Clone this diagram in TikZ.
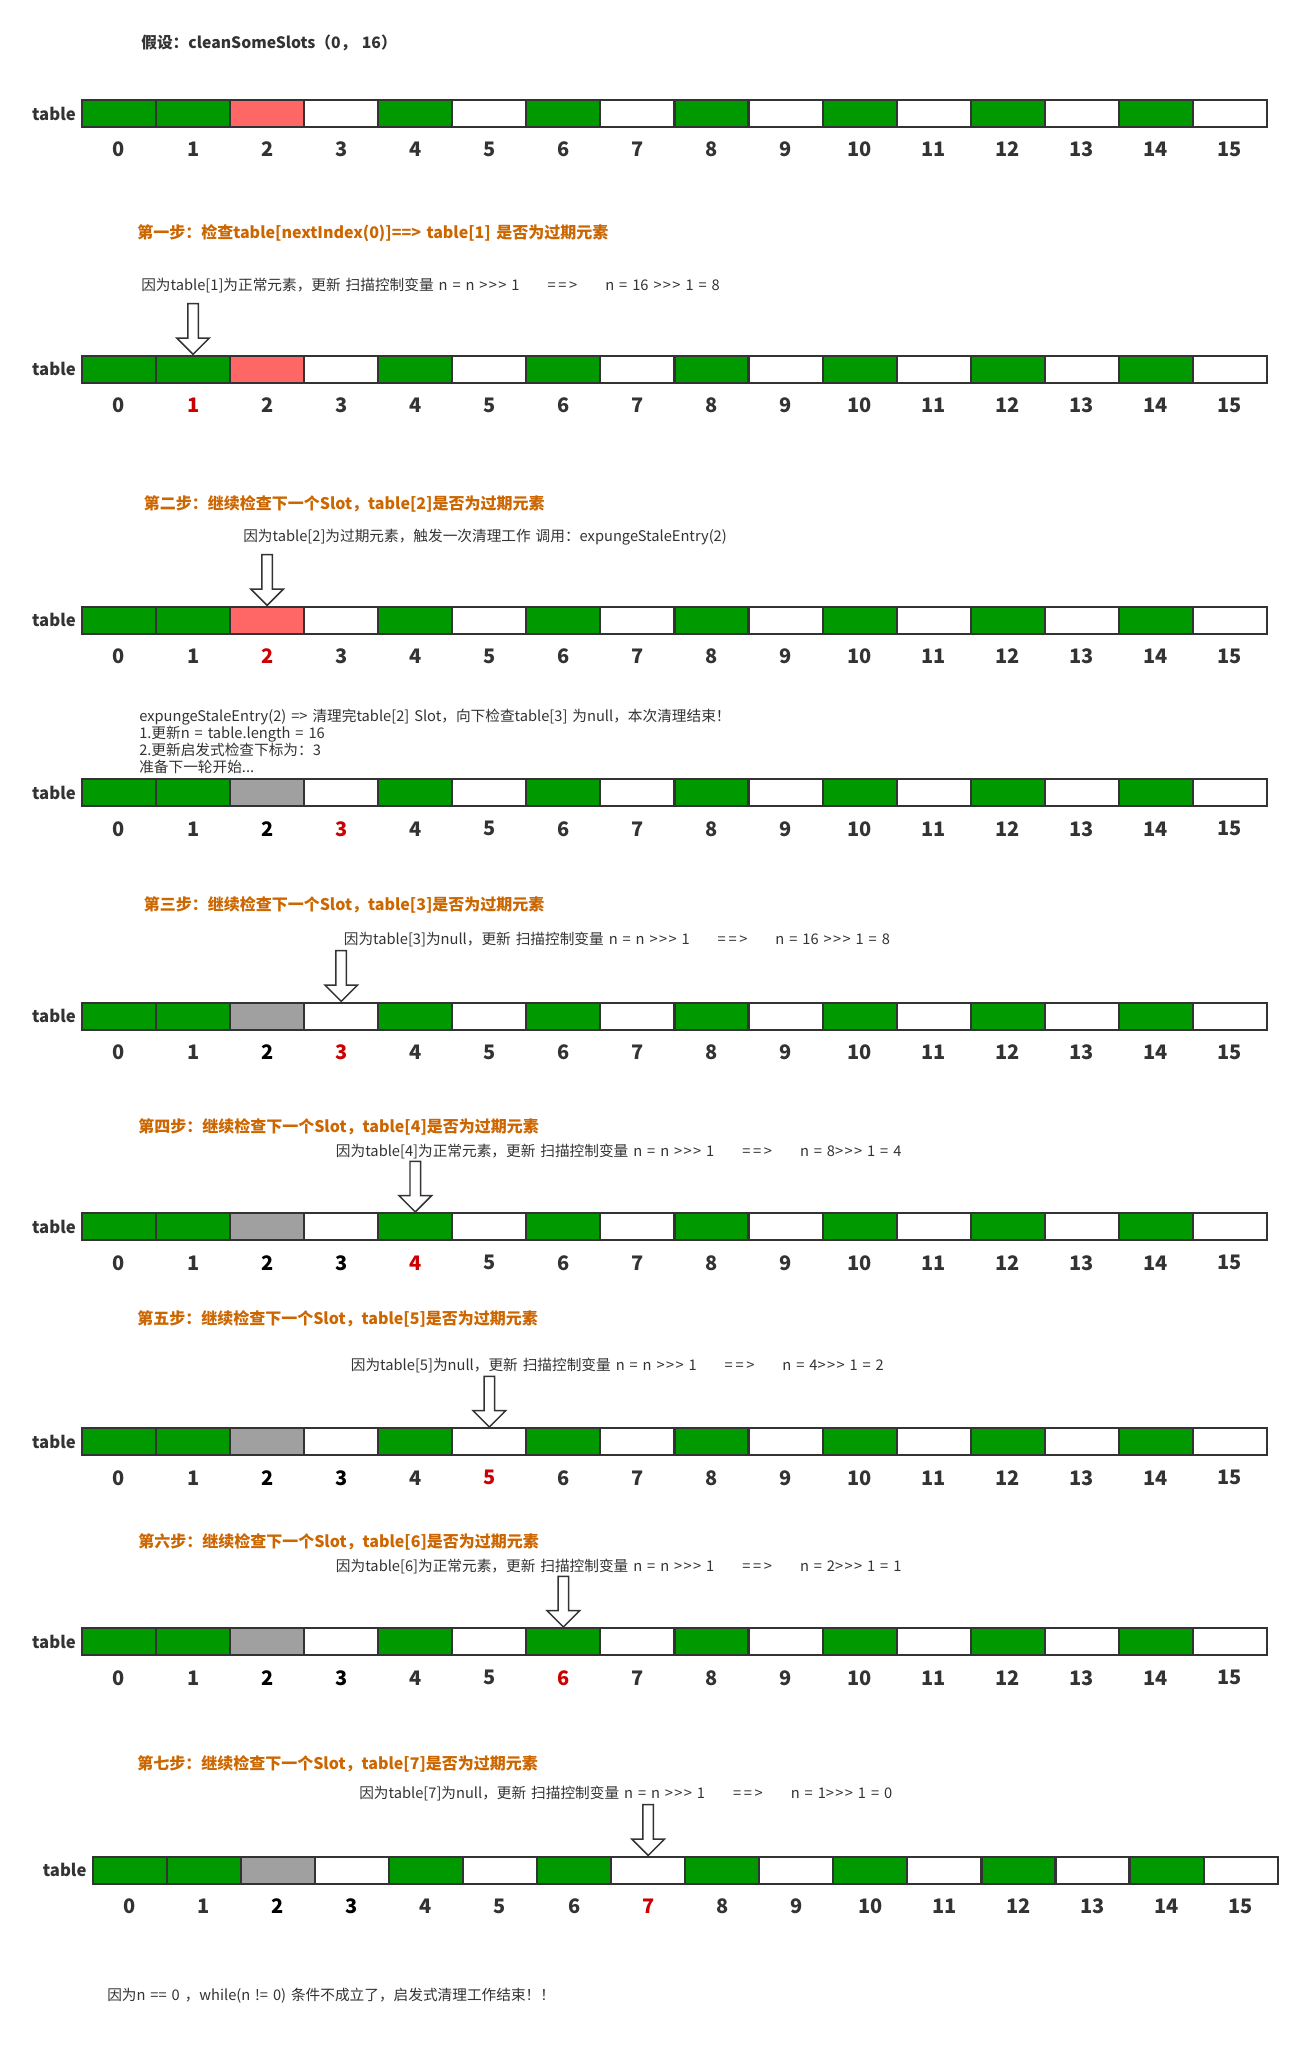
\documentclass[tikz,border=0pt]{standalone}
\usepackage{fontspec}
\setmainfont{Noto Sans CJK SC}[WordSpace=1.5]
\usetikzlibrary{shapes.arrows}

\definecolor{okgreen}{HTML}{009900}
\definecolor{stalered}{HTML}{FF6666}
\definecolor{stalegray}{HTML}{A0A0A0}
\definecolor{cellborder}{HTML}{333333}
\definecolor{steporange}{HTML}{CC6600}
\definecolor{notegray}{HTML}{333333}
\colorlet{numc0}{notegray}
\definecolor{numc1}{HTML}{CC0000}
\colorlet{numc2}{black}
\newcommand{\ushr}{>\kern1pt>\kern1pt>}
\newcommand{\thento}{\hspace{21pt}=\kern2pt=\kern2pt>\hspace{21pt}}

\begin{document}
\begin{tikzpicture}[x=0.75pt, y=-0.75pt,
	cell/.style={draw=cellborder, line width=1.6pt, minimum width=55.545pt, minimum height=20.25pt, inner sep=0pt, outer sep=0pt, anchor=north west},
	digit/.style={font=\bfseries\fontsize{15pt}{15pt}\selectfont, inner sep=0pt},
	rowlabel/.style={font=\bfseries\fontsize{12.5pt}{12.5pt}\selectfont, text=notegray, inner sep=0pt, anchor=east},
	heading/.style={font=\bfseries\fontsize{12pt}{14pt}\selectfont, text=steporange, inner sep=0pt, anchor=west},
	note/.style={font=\fontsize{11pt}{12.75pt}\selectfont, text=notegray, inner sep=0pt, anchor=west},
	blockarrow/.style={single arrow, draw=cellborder, fill=white, line width=1.1pt, rotate=-90, anchor=tip, minimum height=38pt, inner xsep=0pt, inner ysep=3.4pt, single arrow head extend=8.25pt, outer sep=0pt}]
	\fill[white] (0,0) rectangle (1301,2047);
	\useasboundingbox (0,0) rectangle (1301,2047);

	% the nine snapshots of the table
	\foreach \row/\ytop/\xl/\hit/\stale in {1/100/82/-1/stalered, 2/355.7/82/1/stalered, 3/606.7/82/2/stalered, 4/779.3/82/3/stalegray, 5/1002.7/82/3/stalegray, 6/1213.3/82/4/stalegray, 7/1428.3/82/5/stalegray, 8/1628.3/82/6/stalegray, 9/1856.7/92.7/7/stalegray} {
		\foreach \i/\fc in {0/okgreen,1/okgreen,2/\stale,3/white,4/okgreen,5/white,6/okgreen,7/white,8/okgreen,9/white,10/okgreen,11/white,12/okgreen,13/white,14/okgreen,15/white} {
			\pgfmathtruncatemacro{\kind}{(\i==\hit) ? 1 : ((((\i==2) && (\row>3)) || ((\i==3) && (\row>5))) ? 2 : 0)}
			\node[cell, fill=\fc] (c\row-\i) at ({\xl+\i*74.06},\ytop) {};
			\node[digit, text=numc\kind] (n\row-\i) at ([yshift=-27pt]c\row-\i.center) {\i};
		}
		\node[rowlabel] (t\row) at ([xshift=-4.5pt]c\row-0.west) {table};
	}

	% pointers to the slot being checked
	\foreach \row/\i in {2/1, 3/2, 5/3, 6/4, 7/5, 8/6, 9/7}
		\node[blockarrow] (a\row) at ([yshift=1pt]c\row-\i.north) {};

	\node[note, font=\bfseries\fontsize{11.8pt}{14pt}\selectfont] (title) at (141,43) {假设：cleanSomeSlots（0， 16）};

	\node[heading] (h1) at (137,233) {第一步：检查table[nextIndex(0)]==> table[1] 是否为过期元素};
	\node[note] (m1) at (141,286) {因为table[1]为正常元素，更新 扫描控制变量 n = n \ushr{} 1\thento n = 16 \ushr{} 1 = 8};

	\node[heading] (h2) at (143.6,504) {第二步：继续检查下一个Slot，table[2]是否为过期元素};
	\node[note] (m2) at (243,537) {因为table[2]为过期元素，触发一次清理工作 调用：expungeStaleEntry(2)};
	\node[note, align=left] (m2b) at (139,741) {expungeStaleEntry(2) => 清理完table[2] Slot，向下检查table[3] 为null，本次清理结束！\\1.更新n = table.length = 16\\2.更新启发式检查下标为：3\\准备下一轮开始...};

	\node[heading] (h3) at (143.5,905) {第三步：继续检查下一个Slot，table[3]是否为过期元素};
	\node[note] (m3) at (343.6,940) {因为table[3]为null，更新 扫描控制变量 n = n \ushr{} 1\thento n = 16 \ushr{} 1 = 8};

	\node[heading] (h4) at (138,1127) {第四步：继续检查下一个Slot，table[4]是否为过期元素};
	\node[note] (m4) at (335.7,1152) {因为table[4]为正常元素，更新 扫描控制变量 n = n \ushr{} 1\thento n = 8\ushr{} 1 = 4};

	\node[heading] (h5) at (137,1319) {第五步：继续检查下一个Slot，table[5]是否为过期元素};
	\node[note] (m5) at (350.6,1366) {因为table[5]为null，更新 扫描控制变量 n = n \ushr{} 1\thento n = 4\ushr{} 1 = 2};

	\node[heading] (h6) at (138,1542) {第六步：继续检查下一个Slot，table[6]是否为过期元素};
	\node[note] (m6) at (335.7,1567) {因为table[6]为正常元素，更新 扫描控制变量 n = n \ushr{} 1\thento n = 2\ushr{} 1 = 1};

	\node[heading] (h7) at (137,1764) {第七步：继续检查下一个Slot，table[7]是否为过期元素};
	\node[note] (m7) at (359,1793) {因为table[7]为null，更新 扫描控制变量 n = n \ushr{} 1\thento n = 1\ushr{} 1 = 0};

	\node[note] (done) at (107,1996) {因为n == 0 ，while(n != 0) 条件不成立了，启发式清理工作结束！！};
\end{tikzpicture}
\end{document}
